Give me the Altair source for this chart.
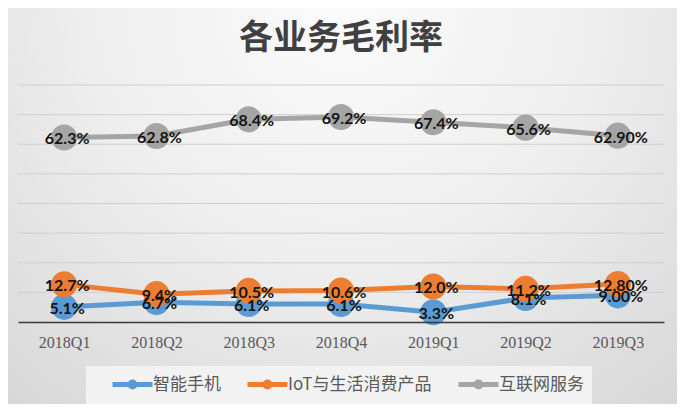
import altair as alt
import pandas as pd

quarters = ["2018Q1", "2018Q2", "2018Q3", "2018Q4", "2019Q1", "2019Q2", "2019Q3"]
series_names = ["智能手机", "IoT与生活消费产品", "互联网服务"]
phone = [5.1, 6.7, 6.1, 6.1, 3.3, 8.1, 9.0]
phone_labels = ["5.1%", "6.7%", "6.1%", "6.1%", "3.3%", "8.1%", "9.00%"]
iot = [12.7, 9.4, 10.5, 10.6, 12.0, 11.2, 12.8]
iot_labels = ["12.7%", "9.4%", "10.5%", "10.6%", "12.0%", "11.2%", "12.80%"]
internet = [62.3, 62.8, 68.4, 69.2, 67.4, 65.6, 62.9]
internet_labels = ["62.3%", "62.8%", "68.4%", "69.2%", "67.4%", "65.6%", "62.90%"]
grid_values = [10, 20, 30, 40, 50, 60, 70, 80]
colors = ["#5B9BD5", "#ED7D31", "#A5A5A5"]

rows = []
for name, vals, labs, k in [(series_names[0], phone, phone_labels, 0),
                            (series_names[1], iot, iot_labels, 1),
                            (series_names[2], internet, internet_labels, 2)]:
    for q, v, l in zip(quarters, vals, labs):
        rows.append({"quarter": q, "series": name, "value": v, "label": l, "k": k})
df = pd.DataFrame(rows)

W, H = 646, 237
PL, PT, PR, PB = 10, 77, 13, 82

cscale = alt.Scale(domain=series_names, range=colors)
legend = alt.Legend(
    title=None, orient="none", legendX=68, legendY=281,
    direction="horizontal", zindex=2,
    fillColor="#f2f2f2", padding=8,
    labelFont="Noto Sans CJK SC", labelFontSize=17,
    labelColor="#595959", labelOffset=38,
    symbolType="M1,0H6M3.1875,0A0.3125,0.3125 0 1,0 3.8125,0A0.3125,0.3125 0 1,0 3.1875,0Z",
    symbolSize=256, symbolStrokeWidth=5, symbolOpacity=1,
    columnPadding=8)

x = alt.X("quarter:N", sort=quarters, scale=alt.Scale(paddingInner=0, paddingOuter=0),
          axis=alt.Axis(title=None, labelAngle=0, ticks=False, domainColor="#3a3a3a",
                        domainWidth=1.6, labelFont="Liberation Serif", labelFontSize=16,
                        labelColor="#595959", labelPadding=12, grid=False, zindex=1))
yscale = alt.Scale(domain=[0, 80], nice=False)
y = alt.Y("value:Q", scale=yscale, axis=None)

bg = alt.Chart(pd.DataFrame({"a": [0]})).mark_rect(
    fill=alt.RadialGradient(
        gradient="radial",
        stops=[alt.GradientStop(color="#fbfbfb", offset=0),
               alt.GradientStop(color="#eeeeee", offset=0.45),
               alt.GradientStop(color="#d3d3d3", offset=1)],
        x1=0.5, y1=0.2, r1=0, x2=0.5, y2=0.2, r2=0.85),
).encode(x=alt.value(-PL), x2=alt.value(W + PR), y=alt.value(-PT), y2=alt.value(H + PB))

grid = alt.Chart(pd.DataFrame({"g": grid_values})).mark_rule(
    color="#cfcfcf", strokeWidth=1).encode(y=alt.Y("g:Q", scale=yscale, axis=None))

base = alt.Chart(df)
lines = base.mark_line(strokeWidth=5).encode(
    x=x, y=y, color=alt.Color("series:N", scale=cscale, sort=series_names, legend=legend),
    detail="series:N")
points = base.mark_circle(size=680, opacity=1).encode(
    x=x, y=y,
    color=alt.Color("series:N", scale=cscale, sort=series_names, legend=legend),
    order=alt.Order("k:Q"))
labels = base.mark_text(font="Lato", fontWeight="bold", fontSize=16, color="#141414",
                        dx=3, dy=2).encode(x=x, y=y, text="label:N")

chart = alt.layer(bg, grid, lines, points, labels).properties(
    width=W, height=H,
    padding={"left": PL, "top": PT, "right": PR, "bottom": PB},
    autosize=alt.AutoSizeParams(type="none"),
    background="#e6e6e6",
    title=alt.TitleParams("各业务毛利率", font="Noto Sans CJK SC", fontSize=34,
                          fontWeight="bold", color="#404040", anchor="middle",
                          offset=-48, zindex=2),
).configure_view(stroke=None)

chart.save("out.html", embed_options={"renderer": "svg", "actions": False})
